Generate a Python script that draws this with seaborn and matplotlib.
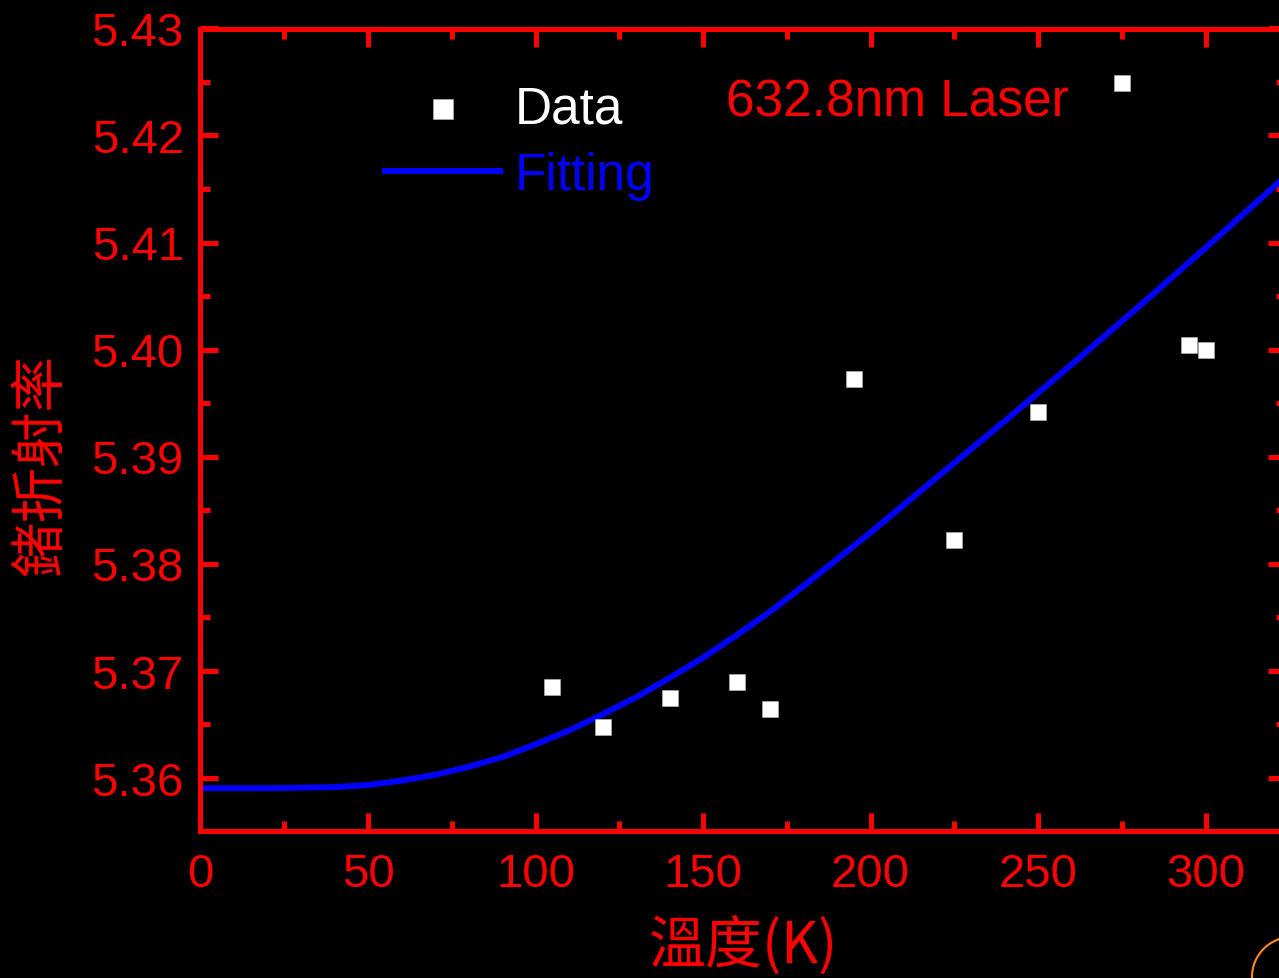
import matplotlib
matplotlib.use("Agg")
import matplotlib.pyplot as plt
import seaborn as sns
import pandas as pd
from matplotlib.patches import Circle
from matplotlib.transforms import IdentityTransform
from matplotlib.ticker import MultipleLocator, FormatStrFormatter

# ---- data ----
temp_K = [105, 120, 140, 160, 170, 195, 225, 250, 275, 295, 300]
index_n = [5.3685, 5.3647, 5.3674, 5.3689, 5.3664, 5.3972, 5.3822, 5.3942,
           5.4249, 5.4004, 5.4000]

fit_T = [0, 10, 20, 30, 40, 50, 60, 70, 80, 90, 100, 110, 120, 130, 140, 150,
         160, 170, 180, 190, 200, 210, 220, 230, 240, 250, 260, 270, 280, 290,
         300, 310, 320, 325]
fit_n = [5.35900, 5.35900, 5.35900, 5.35905, 5.35910, 5.35930, 5.35970,
         5.36025, 5.36100, 5.36190, 5.36310, 5.36440, 5.36590, 5.36750,
         5.36930, 5.37120, 5.37330, 5.37550, 5.37790, 5.38040, 5.38290,
         5.38550, 5.38810, 5.39070, 5.39330, 5.39595, 5.39860, 5.40130,
         5.40400, 5.40675, 5.40950, 5.41230, 5.41510, 5.41650]

x_label = "溫度(K)"
y_label = "鍺折射率"
note = "632.8nm Laser"
legend_labels = ["Data", "Fitting"]

RED = "#FF0000"
BLUE = "#0000FF"

plt.rcParams["font.family"] = ["Liberation Sans", "DejaVu Sans"]
cjk = ["Noto Sans CJK TC", "DejaVu Sans"]

fig = plt.figure(figsize=(12.79, 9.79), dpi=100, facecolor="black")
W, H = 1279, 979
left, right, top, bottom = 200.5, 1286, 29.5, 832
ax = fig.add_axes([left / W, (H - bottom) / H, (right - left) / W, (bottom - top) / H])
ax.set_facecolor("black")

df_data = pd.DataFrame({"T": temp_K, "n": index_n})
df_fit = pd.DataFrame({"T": fit_T, "n": fit_n})

sns.lineplot(data=df_fit, x="T", y="n", ax=ax, color=BLUE, lw=4.3,
             label=legend_labels[1], zorder=2)
sns.scatterplot(data=df_data, x="T", y="n", ax=ax, marker="s", s=144,
                color="white", edgecolor="#bbbbbb", linewidth=0.4,
                label=legend_labels[0], zorder=3)

ax.set_xlim(0, 324)
ax.set_ylim(5.355, 5.43)

ax.xaxis.set_major_locator(MultipleLocator(50))
ax.xaxis.set_minor_locator(MultipleLocator(25))
ax.yaxis.set_major_locator(MultipleLocator(0.01))
ax.yaxis.set_minor_locator(MultipleLocator(0.005))
ax.yaxis.set_major_formatter(FormatStrFormatter("%.2f"))

for sp in ax.spines.values():
    sp.set_color(RED)
    sp.set_linewidth(3.6)

ax.tick_params(which="both", direction="in", colors=RED, top=True, right=True,
               labeltop=False, labelright=False)
ax.tick_params(which="major", length=13, width=3.6, labelsize=34)
ax.tick_params(which="minor", length=7, width=3.6)
ax.tick_params(axis="x", which="major", pad=15)
ax.tick_params(axis="y", which="major", pad=12)

ax.set_xlabel(x_label, family=cjk, fontsize=41, color=RED)
ax.set_ylabel(y_label, family=cjk, fontsize=40, color=RED)
ax.xaxis.set_label_coords(0.5, -0.106)
ax.yaxis.set_label_coords(-0.120, 0.457)

ax.text(157, 5.4231, note, color=RED, fontsize=37, ha="left", va="center")

handles, labels = ax.get_legend_handles_labels()
order = [labels.index(legend_labels[0]), labels.index(legend_labels[1])]
leg = ax.legend([handles[i] for i in order], [labels[i] for i in order],
                loc="upper left", bbox_to_anchor=(0.170, 0.930), frameon=False,
                fontsize=37, handlelength=2.24, handletextpad=0.29,
                labelspacing=0.34, borderpad=0, borderaxespad=0, markerscale=1.24)
leg.get_texts()[0].set_color("white")
leg.get_texts()[1].set_color(BLUE)

# small orange arc visible at the lower-right corner of the reference
fig.add_artist(Circle((1292, H - 978), 40, transform=IdentityTransform(),
                      fill=False, edgecolor="#FF8C1A", lw=1.5))

fig.savefig("out.png", dpi=100, facecolor="black")
